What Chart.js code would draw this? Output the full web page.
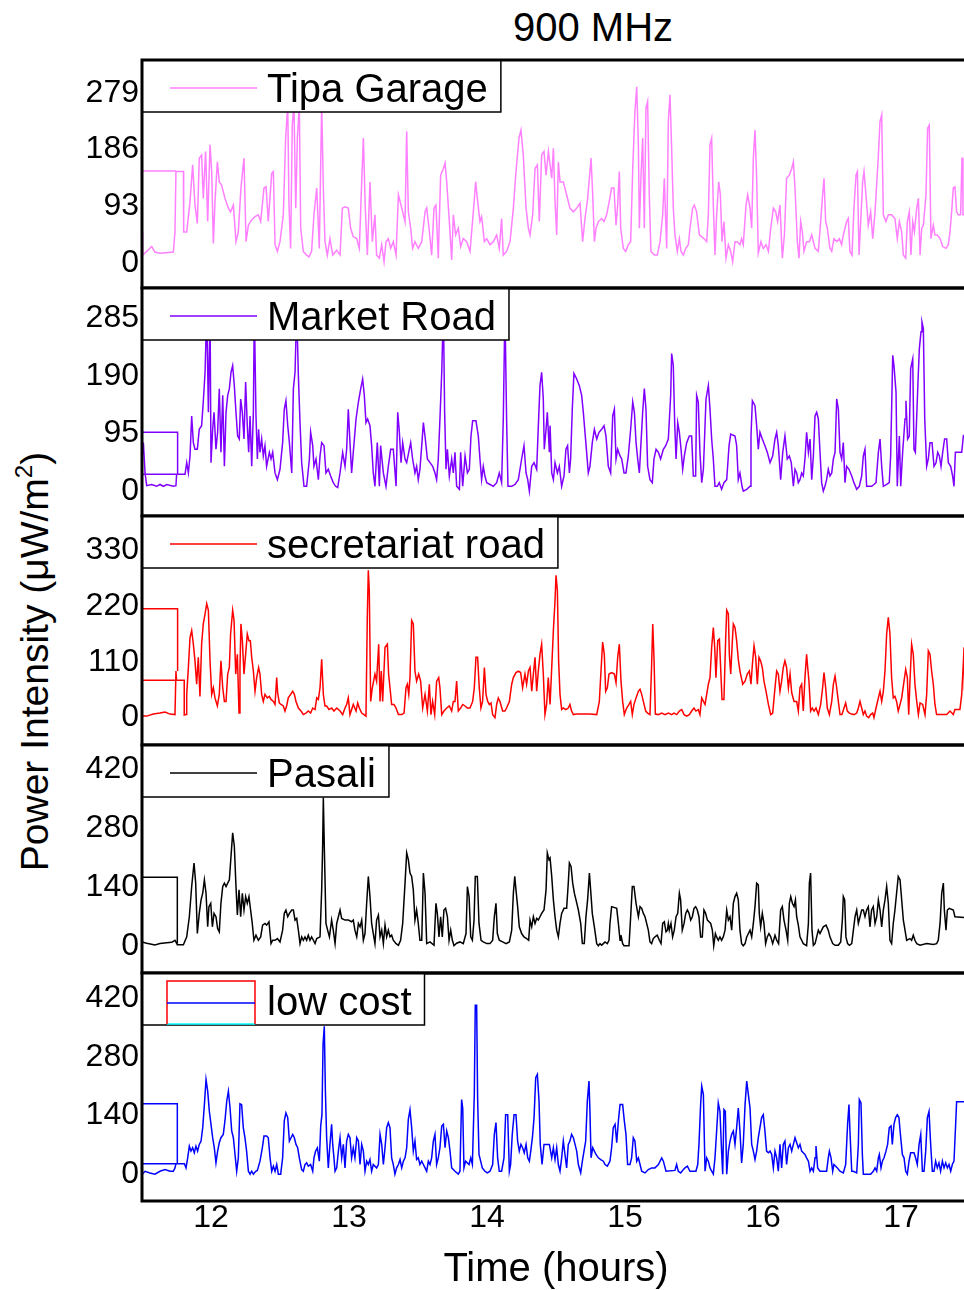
<!DOCTYPE html>
<html lang="en">
<head>
<meta charset="utf-8">
<title>900 MHz</title>
<script src="https://cdn.jsdelivr.net/npm/chart.js@4.4.1/dist/chart.umd.min.js"></script>
<style>
  html, body { margin: 0; padding: 0; background: #fff; }
  body { width: 964px; height: 1290px; overflow: hidden; position: relative;
         font-family: "Liberation Sans", Arial, sans-serif; color: #000; }
  .panel { position: absolute; left: 0; }
  #title { position: absolute; left: 393px; top: 7px; width: 400px; text-align: center;
           font-size: 40px; line-height: 40px; }
  #yTitle { position: absolute; left: -266px; top: 642px; width: 600px; text-align: center;
            font-size: 39px; line-height: 39px; transform: rotate(-90deg); white-space: nowrap; }
  #yTitle sup { font-size: 24px; line-height: 0; vertical-align: 16px; }
</style>
</head>
<body>
<div id="title">900 MHz</div>
<div id="yTitle">Power Intensity (μW/m<sup>2</sup>)</div>
<canvas id="p1" class="panel" width="970" height="232" style="top:58px"></canvas>
<canvas id="p2" class="panel" width="970" height="232" style="top:286px"></canvas>
<canvas id="p3" class="panel" width="970" height="233" style="top:514px"></canvas>
<canvas id="p4" class="panel" width="970" height="232" style="top:743px"></canvas>
<canvas id="p5" class="panel" width="970" height="319" style="top:971px"></canvas>
<script>
// ── Data (time in hours, power intensity in µW/m²) ───────────────────────────
const HOUR_TICKS = [12, 13, 14, 15, 16, 17];

const tipaTicks   = [0, 93, 186, 279];
const marketTicks = [0, 95, 190, 285];
const secTicks    = [0, 110, 220, 330];
const pasaliTicks = [0, 140, 280, 420];
const lowTicks    = [0, 140, 280, 420];

// [hour, value]; a null value breaks the line
const tipaGarage = [
  [11.5,151],[11.746,151],[11.746,null],
  [11.5,51],[11.505,13],[11.534,19],[11.570,27],[11.594,18],[11.630,16],[11.727,18],[11.739,51],[11.746,150],[11.800,150],[11.802,51],
  [11.824,51],[11.848,101],[11.867,161],[11.884,95],[11.901,65],[11.915,172],[11.932,177],[11.944,106],[11.961,183],[11.976,68],
  [11.993,194],[12.005,150],[12.017,32],[12.029,101],[12.046,166],[12.060,133],[12.077,128],[12.101,106],[12.126,90],[12.142,84],
  [12.162,95],[12.181,35],[12.198,51],[12.217,123],[12.239,172],[12.254,35],[12.271,62],[12.295,71],[12.319,76],[12.343,79],
  [12.360,68],[12.384,123],[12.399,125],[12.415,68],[12.440,147],[12.452,150],[12.464,30],[12.481,19],[12.500,35],[12.524,79],
  [12.541,205],[12.556,260],[12.565,95],[12.577,24],[12.589,226],[12.601,260],[12.614,90],[12.626,205],[12.640,260],[12.650,57],
  [12.669,19],[12.693,13],[12.710,10],[12.729,19],[12.746,79],[12.766,123],[12.785,24],[12.802,260],[12.814,123],[12.826,35],
  [12.843,13],[12.862,40],[12.882,13],[12.911,21],[12.935,13],[12.952,90],[12.971,92],[12.995,90],[13.012,57],[13.031,43],
  [13.056,40],[13.075,24],[13.092,133],[13.104,205],[13.118,90],[13.133,13],[13.152,133],[13.169,35],[13.188,79],[13.200,13],
  [13.220,8],[13.237,30],[13.254,2],[13.268,35],[13.285,40],[13.302,24],[13.321,35],[13.341,13],[13.358,112],[13.370,101],
  [13.389,84],[13.406,68],[13.418,216],[13.430,84],[13.447,57],[13.461,24],[13.478,35],[13.502,24],[13.527,35],[13.551,84],
  [13.563,90],[13.580,57],[13.599,13],[13.616,90],[13.630,95],[13.647,8],[13.664,144],[13.684,155],[13.696,164],[13.708,133],
  [13.727,68],[13.744,5],[13.756,79],[13.773,46],[13.792,57],[13.809,27],[13.828,40],[13.853,35],[13.877,19],[13.901,84],
  [13.918,133],[13.930,106],[13.949,68],[13.961,76],[13.981,35],[13.998,40],[14.022,30],[14.046,35],[14.070,46],[14.089,24],
  [14.106,73],[14.118,13],[14.142,19],[14.167,35],[14.191,90],[14.210,150],[14.232,205],[14.246,218],[14.263,177],[14.283,90],
  [14.300,57],[14.312,46],[14.331,79],[14.348,155],[14.365,161],[14.379,68],[14.396,177],[14.413,183],[14.428,144],[14.445,183],
  [14.469,139],[14.481,188],[14.493,101],[14.505,46],[14.517,166],[14.529,133],[14.553,133],[14.577,112],[14.601,90],[14.626,84],
  [14.650,90],[14.674,98],[14.693,35],[14.710,73],[14.727,101],[14.742,139],[14.754,172],[14.766,112],[14.778,35],[14.790,57],
  [14.807,68],[14.831,73],[14.848,68],[14.867,79],[14.886,101],[14.903,123],[14.920,123],[14.935,62],[14.947,95],[14.959,150],
  [14.969,57],[14.988,24],[15.005,19],[15.024,30],[15.041,35],[15.056,155],[15.072,248],[15.085,289],[15.097,194],[15.104,57],
  [15.116,144],[15.128,205],[15.140,57],[15.152,254],[15.164,265],[15.176,112],[15.188,19],[15.213,13],[15.234,13],[15.254,35],
  [15.273,79],[15.285,139],[15.295,68],[15.302,24],[15.314,232],[15.326,276],[15.338,188],[15.350,90],[15.362,46],[15.379,19],
  [15.394,40],[15.406,19],[15.423,13],[15.440,24],[15.459,30],[15.471,57],[15.490,90],[15.502,95],[15.519,84],[15.539,46],
  [15.556,43],[15.572,40],[15.592,35],[15.604,79],[15.616,194],[15.628,205],[15.640,95],[15.652,13],[15.664,79],[15.679,133],
  [15.691,112],[15.703,35],[15.717,68],[15.732,8],[15.749,30],[15.766,19],[15.780,2],[15.797,35],[15.814,35],[15.833,30],
  [15.845,40],[15.857,30],[15.877,95],[15.889,112],[15.906,90],[15.918,57],[15.930,172],[15.942,218],[15.954,139],[15.966,16],
  [15.985,35],[16.002,24],[16.022,30],[16.039,19],[16.056,57],[16.075,90],[16.092,84],[16.106,68],[16.123,95],[16.140,8],
  [16.155,46],[16.171,139],[16.191,144],[16.208,155],[16.220,166],[16.232,123],[16.249,35],[16.261,8],[16.273,68],[16.285,51],
  [16.297,19],[16.316,35],[16.336,35],[16.353,46],[16.377,24],[16.401,19],[16.418,68],[16.432,112],[16.442,139],[16.454,68],
  [16.466,57],[16.485,24],[16.498,19],[16.514,40],[16.534,35],[16.553,40],[16.570,30],[16.582,46],[16.594,57],[16.606,68],
  [16.618,73],[16.630,19],[16.645,13],[16.659,90],[16.674,144],[16.684,150],[16.696,13],[16.708,68],[16.722,133],[16.732,150],
  [16.746,112],[16.763,62],[16.780,84],[16.795,40],[16.812,84],[16.836,177],[16.848,232],[16.860,243],[16.872,79],[16.891,68],
  [16.908,79],[16.932,79],[16.956,73],[16.973,40],[16.988,68],[17.005,51],[17.017,13],[17.034,8],[17.046,68],[17.060,84],
  [17.072,13],[17.085,68],[17.097,51],[17.114,90],[17.126,106],[17.138,13],[17.150,57],[17.162,62],[17.181,112],[17.193,221],
  [17.205,226],[17.217,40],[17.234,62],[17.246,46],[17.263,46],[17.283,40],[17.302,27],[17.326,24],[17.343,30],[17.355,51],
  [17.367,84],[17.379,123],[17.391,125],[17.403,84],[17.415,79],[17.432,79],[17.442,172],[17.447,172],[17.449,79],[17.5,79],
];

const marketRoad = [
  [11.5,97],[11.758,97],[11.758,28],[11.5,28],[11.5,null],
  [11.5,53],[11.510,80],[11.522,30],[11.534,9],[11.570,11],[11.606,8],[11.630,11],[11.655,8],[11.679,11],[11.727,8],[11.746,9],
  [11.751,28],[11.812,28],[11.824,47],[11.836,30],[11.848,58],[11.860,124],[11.872,80],[11.884,69],[11.901,69],[11.915,102],
  [11.932,108],[11.944,147],[11.957,196],[11.969,300],[11.981,130],[11.993,300],[12.000,47],[12.012,102],[12.022,130],[12.036,69],
  [12.048,97],[12.060,169],[12.072,64],[12.085,158],[12.097,41],[12.109,130],[12.121,158],[12.133,169],[12.145,196],[12.157,207],
  [12.169,174],[12.181,130],[12.193,91],[12.205,86],[12.215,152],[12.227,130],[12.239,86],[12.251,180],[12.263,108],[12.273,64],
  [12.283,124],[12.295,41],[12.307,130],[12.314,300],[12.326,124],[12.336,53],[12.345,102],[12.355,64],[12.367,86],[12.379,58],
  [12.391,75],[12.403,41],[12.423,64],[12.435,53],[12.447,64],[12.464,30],[12.481,19],[12.500,36],[12.519,80],[12.531,135],
  [12.543,149],[12.556,108],[12.568,80],[12.585,30],[12.597,169],[12.609,196],[12.621,300],[12.633,191],[12.645,113],[12.657,47],
  [12.674,8],[12.693,8],[12.713,53],[12.722,97],[12.737,75],[12.746,41],[12.761,53],[12.778,19],[12.790,58],[12.802,80],
  [12.819,75],[12.833,30],[12.850,36],[12.867,25],[12.886,14],[12.903,8],[12.918,6],[12.935,30],[12.954,64],[12.971,41],
  [12.983,69],[12.995,135],[13.007,80],[13.019,30],[13.031,64],[13.051,119],[13.068,147],[13.085,169],[13.099,185],[13.111,158],
  [13.123,113],[13.135,119],[13.152,108],[13.164,75],[13.176,30],[13.188,8],[13.205,80],[13.220,8],[13.229,75],[13.249,30],
  [13.268,8],[13.285,41],[13.302,69],[13.321,69],[13.341,8],[13.353,130],[13.365,97],[13.377,47],[13.389,80],[13.406,53],
  [13.418,47],[13.437,69],[13.447,80],[13.461,53],[13.478,30],[13.490,41],[13.502,19],[13.514,36],[13.527,75],[13.539,113],
  [13.553,86],[13.568,53],[13.587,47],[13.606,41],[13.623,30],[13.635,19],[13.647,53],[13.659,119],[13.672,196],[13.684,300],
  [13.693,130],[13.703,36],[13.713,69],[13.727,25],[13.744,53],[13.756,30],[13.768,64],[13.780,8],[13.800,3],[13.809,64],
  [13.824,8],[13.841,58],[13.858,30],[13.872,36],[13.884,91],[13.896,116],[13.920,116],[13.937,91],[13.949,53],[13.961,19],
  [13.973,41],[13.985,25],[13.998,14],[14.022,11],[14.046,8],[14.070,14],[14.089,30],[14.106,14],[14.118,119],[14.130,300],
  [14.142,119],[14.152,8],[14.179,8],[14.203,11],[14.227,19],[14.251,53],[14.268,75],[14.283,30],[14.295,19],[14.307,0],
  [14.324,41],[14.341,47],[14.360,36],[14.372,108],[14.384,174],[14.396,196],[14.408,152],[14.415,69],[14.428,102],[14.437,130],
  [14.452,64],[14.457,108],[14.469,30],[14.481,19],[14.493,47],[14.510,30],[14.524,41],[14.541,8],[14.558,25],[14.572,69],
  [14.584,75],[14.597,30],[14.606,53],[14.618,135],[14.630,194],[14.650,185],[14.669,174],[14.686,158],[14.698,130],[14.710,97],
  [14.722,64],[14.734,30],[14.746,41],[14.763,80],[14.778,102],[14.795,86],[14.812,97],[14.831,102],[14.848,108],[14.862,91],
  [14.879,41],[14.896,30],[14.911,124],[14.923,135],[14.935,53],[14.947,69],[14.964,58],[14.976,53],[14.993,30],[15.007,30],
  [15.024,58],[15.041,102],[15.056,147],[15.068,130],[15.080,80],[15.092,53],[15.104,30],[15.116,80],[15.128,130],[15.140,169],
  [15.152,135],[15.164,41],[15.181,19],[15.198,14],[15.210,53],[15.225,69],[15.242,64],[15.258,53],[15.278,69],[15.295,75],
  [15.314,86],[15.331,158],[15.338,227],[15.350,207],[15.360,113],[15.370,53],[15.382,113],[15.394,97],[15.406,69],[15.418,36],
  [15.430,58],[15.447,80],[15.466,91],[15.483,91],[15.495,25],[15.512,25],[15.519,158],[15.531,147],[15.543,64],[15.556,14],
  [15.568,36],[15.587,152],[15.604,174],[15.616,135],[15.628,86],[15.640,53],[15.652,8],[15.669,8],[15.683,14],[15.700,3],
  [15.717,14],[15.737,19],[15.754,75],[15.766,94],[15.797,91],[15.809,75],[15.821,19],[15.833,30],[15.848,8],[15.857,0],
  [15.882,3],[15.906,8],[15.913,91],[15.923,149],[15.942,141],[15.954,108],[15.966,69],[15.978,97],[15.995,86],[16.014,75],
  [16.031,64],[16.051,47],[16.070,58],[16.087,86],[16.099,97],[16.111,75],[16.128,19],[16.143,64],[16.159,91],[16.176,53],
  [16.191,58],[16.205,47],[16.220,8],[16.232,36],[16.244,30],[16.256,14],[16.268,19],[16.280,30],[16.292,25],[16.304,53],
  [16.316,97],[16.329,64],[16.341,86],[16.353,19],[16.365,58],[16.377,124],[16.389,130],[16.401,119],[16.413,64],[16.425,14],
  [16.437,0],[16.449,8],[16.461,19],[16.473,36],[16.485,25],[16.498,30],[16.510,53],[16.522,64],[16.534,152],[16.546,135],
  [16.558,64],[16.570,53],[16.582,80],[16.594,14],[16.606,41],[16.623,36],[16.643,25],[16.659,14],[16.679,3],[16.698,8],
  [16.715,25],[16.727,58],[16.739,69],[16.751,8],[16.771,8],[16.787,8],[16.804,11],[16.819,14],[16.836,64],[16.848,86],
  [16.860,41],[16.872,8],[16.896,11],[16.915,14],[16.925,58],[16.940,224],[16.949,207],[16.964,163],[16.973,8],[16.988,91],
  [16.998,8],[17.012,64],[17.029,119],[17.036,149],[17.048,86],[17.060,91],[17.070,202],[17.085,218],[17.094,69],[17.104,64],
  [17.114,124],[17.123,180],[17.133,235],[17.145,263],[17.152,279],[17.162,268],[17.172,119],[17.186,41],[17.198,53],[17.210,80],
  [17.225,80],[17.239,41],[17.254,47],[17.266,64],[17.278,58],[17.290,41],[17.302,64],[17.316,86],[17.331,86],[17.343,47],
  [17.360,41],[17.374,25],[17.384,8],[17.394,64],[17.415,64],[17.440,64],[17.452,91],[17.5,80],
];

const secretariatRoad = [
  [11.5,215],[11.758,215],[11.758,92],[11.758,null],
  [11.5,74],[11.75,74],[11.75,null],
  [11.5,74],[11.502,3],[11.534,3],[11.582,7],[11.630,9],[11.667,11],[11.703,7],[11.739,6],[11.746,92],[11.750,74],[11.806,74],
  [11.806,5],[11.819,6],[11.824,46],[11.836,99],[11.848,158],[11.860,172],[11.872,145],[11.884,112],[11.896,66],[11.908,119],
  [11.920,42],[11.932,145],[11.944,185],[11.957,205],[11.969,225],[11.981,212],[11.993,112],[12.005,46],[12.017,59],[12.029,39],
  [12.046,23],[12.060,46],[12.072,112],[12.085,59],[12.097,32],[12.109,32],[12.121,86],[12.133,99],[12.142,165],[12.157,212],
  [12.167,192],[12.179,86],[12.191,125],[12.203,9],[12.210,99],[12.217,185],[12.227,152],[12.239,86],[12.251,125],[12.263,165],
  [12.275,152],[12.285,152],[12.295,119],[12.307,92],[12.319,52],[12.331,79],[12.345,99],[12.355,86],[12.367,46],[12.379,32],
  [12.391,46],[12.408,39],[12.423,42],[12.435,36],[12.452,32],[12.464,26],[12.476,79],[12.483,49],[12.495,29],[12.507,26],
  [12.524,23],[12.536,13],[12.548,23],[12.560,39],[12.577,46],[12.592,52],[12.604,46],[12.616,32],[12.633,19],[12.652,13],
  [12.669,6],[12.688,9],[12.705,13],[12.722,9],[12.737,19],[12.754,16],[12.766,39],[12.778,36],[12.790,59],[12.802,115],
  [12.814,46],[12.826,23],[12.838,23],[12.855,16],[12.874,19],[12.891,13],[12.911,19],[12.935,13],[12.954,6],[12.971,19],
  [12.983,26],[12.995,39],[13.007,6],[13.031,26],[13.051,13],[13.063,29],[13.075,19],[13.092,9],[13.109,6],[13.123,3],
  [13.133,205],[13.140,291],[13.147,251],[13.157,32],[13.169,59],[13.188,86],[13.200,72],[13.215,145],[13.225,32],[13.234,92],
  [13.244,32],[13.261,139],[13.278,145],[13.287,86],[13.297,59],[13.309,26],[13.326,26],[13.341,19],[13.358,6],[13.382,6],
  [13.399,9],[13.413,59],[13.423,66],[13.433,46],[13.442,79],[13.454,192],[13.466,185],[13.478,92],[13.490,72],[13.505,86],
  [13.519,72],[13.534,19],[13.551,46],[13.568,13],[13.582,66],[13.594,6],[13.606,32],[13.621,6],[13.635,72],[13.650,79],
  [13.659,59],[13.672,6],[13.688,13],[13.708,19],[13.727,23],[13.744,13],[13.756,32],[13.768,32],[13.780,72],[13.792,13],
  [13.809,19],[13.824,26],[13.841,23],[13.858,19],[13.877,19],[13.896,32],[13.908,59],[13.920,119],[13.932,119],[13.944,59],
  [13.956,19],[13.968,32],[13.981,99],[13.993,46],[14.005,32],[14.017,26],[14.029,29],[14.041,6],[14.058,0],[14.070,26],
  [14.082,39],[14.094,32],[14.113,13],[14.130,13],[14.142,19],[14.162,32],[14.179,66],[14.191,79],[14.210,89],[14.227,92],
  [14.244,89],[14.258,59],[14.275,86],[14.287,66],[14.300,92],[14.312,99],[14.324,52],[14.336,86],[14.348,119],[14.360,52],
  [14.372,92],[14.384,125],[14.396,145],[14.408,86],[14.420,6],[14.432,26],[14.444,79],[14.457,26],[14.469,99],[14.481,172],
  [14.493,231],[14.500,281],[14.510,251],[14.519,112],[14.529,46],[14.541,16],[14.553,19],[14.572,16],[14.589,19],[14.601,26],
  [14.613,13],[14.626,6],[14.650,7],[14.698,7],[14.746,7],[14.795,6],[14.814,32],[14.826,92],[14.838,149],[14.850,125],
  [14.860,52],[14.872,59],[14.884,86],[14.903,89],[14.923,86],[14.935,69],[14.947,119],[14.959,145],[14.971,72],[14.983,32],
  [14.995,6],[15.012,19],[15.029,26],[15.041,32],[15.053,6],[15.065,26],[15.080,39],[15.097,52],[15.109,56],[15.121,46],
  [15.133,32],[15.150,13],[15.164,9],[15.181,6],[15.193,105],[15.201,185],[15.210,119],[15.220,7],[15.242,6],[15.266,9],
  [15.290,6],[15.314,9],[15.338,6],[15.355,9],[15.375,6],[15.394,13],[15.411,16],[15.428,6],[15.447,3],[15.466,6],
  [15.483,13],[15.500,19],[15.514,13],[15.531,16],[15.543,6],[15.556,39],[15.568,32],[15.580,26],[15.592,46],[15.604,66],
  [15.616,79],[15.628,139],[15.640,178],[15.650,139],[15.659,79],[15.672,152],[15.684,155],[15.693,99],[15.703,36],[15.717,36],
  [15.729,152],[15.737,212],[15.749,205],[15.756,125],[15.766,86],[15.778,152],[15.785,185],[15.797,178],[15.809,152],[15.821,115],
  [15.833,92],[15.853,66],[15.870,72],[15.886,86],[15.901,92],[15.913,66],[15.923,105],[15.935,142],[15.947,119],[15.959,66],
  [15.971,119],[15.983,112],[15.995,99],[16.007,72],[16.022,52],[16.039,26],[16.056,6],[16.070,9],[16.087,59],[16.099,92],
  [16.111,86],[16.123,52],[16.135,72],[16.147,99],[16.159,112],[16.171,99],[16.184,59],[16.196,86],[16.208,49],[16.225,32],
  [16.244,32],[16.256,13],[16.268,59],[16.280,66],[16.292,13],[16.304,79],[16.316,125],[16.324,99],[16.333,72],[16.345,13],
  [16.357,19],[16.370,13],[16.384,19],[16.401,6],[16.418,26],[16.432,59],[16.442,89],[16.454,59],[16.466,19],[16.481,6],
  [16.498,32],[16.510,66],[16.522,82],[16.534,59],[16.546,32],[16.558,6],[16.572,6],[16.587,19],[16.599,29],[16.611,13],
  [16.626,9],[16.643,7],[16.659,6],[16.679,9],[16.691,19],[16.703,32],[16.715,19],[16.727,6],[16.739,13],[16.751,3],
  [16.766,0],[16.780,6],[16.795,9],[16.804,0],[16.819,19],[16.836,39],[16.848,52],[16.860,32],[16.872,52],[16.884,92],
  [16.896,165],[16.908,198],[16.920,165],[16.932,79],[16.944,39],[16.956,42],[16.968,32],[16.980,13],[16.993,26],[17.005,39],
  [17.022,72],[17.034,95],[17.046,79],[17.056,6],[17.065,72],[17.077,145],[17.089,125],[17.101,66],[17.114,32],[17.126,6],
  [17.138,29],[17.157,26],[17.174,6],[17.186,46],[17.198,132],[17.210,125],[17.222,92],[17.234,66],[17.246,26],[17.258,6],
  [17.331,6],[17.355,13],[17.379,6],[17.391,16],[17.427,16],[17.440,46],[17.452,109],[17.457,139],[17.46,55],[17.5,55],
];

const pasali = [
  [11.5,163],[11.756,163],[11.756,5],[11.756,null],
  [11.5,9],[11.534,6],[11.594,2],[11.630,5],[11.679,7],[11.715,8],[11.739,13],[11.756,2],[11.800,2],[11.824,21],[11.843,69],
  [11.860,141],[11.877,197],[11.889,149],[11.901,29],[11.915,77],[11.928,109],[11.940,125],[11.952,157],[11.964,125],[11.976,45],
  [11.985,93],[11.998,101],[12.010,45],[12.022,77],[12.036,69],[12.048,41],[12.060,33],[12.072,101],[12.085,141],[12.097,149],
  [12.109,141],[12.121,149],[12.133,157],[12.145,213],[12.157,269],[12.169,237],[12.181,141],[12.191,73],[12.203,133],[12.215,69],
  [12.227,125],[12.239,85],[12.251,117],[12.263,101],[12.275,117],[12.287,85],[12.299,53],[12.311,13],[12.326,25],[12.343,13],
  [12.360,21],[12.374,49],[12.391,53],[12.403,49],[12.420,57],[12.435,5],[12.447,13],[12.464,13],[12.481,17],[12.500,9],
  [12.519,37],[12.531,77],[12.543,85],[12.556,69],[12.568,77],[12.585,85],[12.597,85],[12.609,61],[12.621,65],[12.633,37],
  [12.645,5],[12.657,21],[12.669,13],[12.681,21],[12.693,13],[12.705,25],[12.717,13],[12.729,21],[12.742,13],[12.754,5],
  [12.766,17],[12.790,21],[12.802,133],[12.809,237],[12.814,353],[12.821,237],[12.833,53],[12.845,37],[12.858,21],[12.874,61],
  [12.886,37],[12.899,5],[12.911,53],[12.923,69],[12.935,85],[12.947,65],[12.971,61],[12.995,61],[13.019,57],[13.031,61],
  [13.043,37],[13.056,21],[13.068,53],[13.080,45],[13.092,61],[13.104,13],[13.116,29],[13.128,101],[13.140,165],[13.152,117],
  [13.164,53],[13.176,29],[13.188,5],[13.200,61],[13.213,73],[13.225,21],[13.237,37],[13.249,5],[13.261,49],[13.273,21],
  [13.285,37],[13.297,21],[13.309,25],[13.321,13],[13.341,5],[13.358,1],[13.374,13],[13.389,53],[13.406,149],[13.418,221],
  [13.430,205],[13.442,173],[13.454,165],[13.466,133],[13.478,61],[13.490,85],[13.502,53],[13.514,13],[13.527,13],[13.539,173],
  [13.551,125],[13.563,5],[13.587,9],[13.616,1],[13.630,101],[13.640,77],[13.652,21],[13.664,69],[13.676,21],[13.688,85],
  [13.700,89],[13.713,69],[13.725,13],[13.737,37],[13.749,13],[13.761,0],[13.780,6],[13.804,9],[13.828,5],[13.848,29],
  [13.858,141],[13.870,117],[13.882,21],[13.894,13],[13.906,61],[13.915,165],[13.930,165],[13.942,53],[13.957,13],[13.973,9],
  [13.998,5],[14.022,5],[14.041,13],[14.053,69],[14.065,101],[14.075,29],[14.089,13],[14.113,9],[14.138,5],[14.162,9],
  [14.179,37],[14.191,125],[14.201,165],[14.210,133],[14.222,93],[14.234,45],[14.251,29],[14.268,21],[14.287,17],[14.302,13],
  [14.312,61],[14.324,45],[14.336,69],[14.348,53],[14.360,65],[14.372,61],[14.384,69],[14.396,77],[14.413,85],[14.428,133],
  [14.437,221],[14.449,205],[14.457,209],[14.469,165],[14.481,109],[14.493,69],[14.505,37],[14.517,21],[14.529,53],[14.541,77],
  [14.558,89],[14.577,89],[14.589,149],[14.597,197],[14.609,189],[14.621,149],[14.633,125],[14.645,109],[14.662,85],[14.679,53],
  [14.691,5],[14.705,5],[14.717,69],[14.729,109],[14.742,173],[14.751,133],[14.763,77],[14.778,45],[14.795,5],[14.807,0],
  [14.819,5],[14.831,1],[14.843,5],[14.855,9],[14.872,5],[14.884,13],[14.891,53],[14.903,93],[14.940,89],[14.952,53],
  [14.964,13],[14.971,25],[14.983,5],[14.993,0],[15.029,0],[15.041,69],[15.053,141],[15.065,141],[15.080,101],[15.097,69],
  [15.109,93],[15.121,89],[15.133,77],[15.145,69],[15.157,53],[15.169,37],[15.181,9],[15.193,5],[15.205,17],[15.217,21],
  [15.234,25],[15.249,13],[15.261,5],[15.273,53],[15.285,57],[15.297,33],[15.307,37],[15.314,53],[15.321,37],[15.333,53],
  [15.345,21],[15.357,37],[15.370,69],[15.382,77],[15.394,125],[15.403,109],[15.415,37],[15.428,53],[15.440,77],[15.452,85],
  [15.464,77],[15.476,61],[15.488,69],[15.500,89],[15.512,93],[15.524,85],[15.536,69],[15.548,21],[15.560,21],[15.572,85],
  [15.584,77],[15.597,61],[15.609,57],[15.621,53],[15.633,37],[15.643,0],[15.655,29],[15.664,21],[15.676,13],[15.688,21],
  [15.700,13],[15.712,21],[15.725,37],[15.737,85],[15.749,61],[15.761,69],[15.773,37],[15.785,101],[15.797,117],[15.809,125],
  [15.821,109],[15.833,37],[15.845,5],[15.857,0],[15.870,5],[15.882,21],[15.894,29],[15.906,37],[15.918,21],[15.930,53],
  [15.942,93],[15.954,149],[15.966,145],[15.973,77],[15.983,45],[15.995,77],[16.007,53],[16.019,5],[16.031,21],[16.043,29],
  [16.056,21],[16.070,5],[16.087,25],[16.099,13],[16.113,5],[16.128,85],[16.140,93],[16.152,61],[16.167,37],[16.179,13],
  [16.191,101],[16.201,117],[16.213,101],[16.225,93],[16.235,109],[16.244,69],[16.256,49],[16.268,21],[16.280,13],[16.292,5],
  [16.316,0],[16.329,53],[16.336,149],[16.345,173],[16.355,37],[16.365,1],[16.377,5],[16.389,21],[16.401,37],[16.413,29],
  [16.425,37],[16.437,45],[16.457,49],[16.473,37],[16.485,21],[16.505,5],[16.522,1],[16.546,1],[16.563,9],[16.575,61],
  [16.582,117],[16.592,109],[16.601,21],[16.613,5],[16.626,1],[16.643,5],[16.655,37],[16.667,69],[16.679,85],[16.691,53],
  [16.703,69],[16.715,85],[16.727,85],[16.739,69],[16.751,85],[16.763,93],[16.775,45],[16.787,85],[16.799,93],[16.812,53],
  [16.824,69],[16.836,109],[16.848,85],[16.860,45],[16.872,85],[16.884,109],[16.896,141],[16.908,101],[16.920,13],[16.932,5],
  [16.944,53],[16.956,85],[16.968,125],[16.980,165],[16.993,157],[17.005,109],[17.017,61],[17.029,37],[17.041,13],[17.065,17],
  [17.077,13],[17.089,25],[17.101,13],[17.114,5],[17.138,1],[17.186,5],[17.234,3],[17.258,5],[17.270,13],[17.283,53],
  [17.295,125],[17.307,149],[17.314,85],[17.326,37],[17.336,85],[17.350,89],[17.379,85],[17.391,69],[17.457,67],[17.5,67],
];

const lowCost = [
  [11.5,168],[11.756,168],[11.756,25],[11.756,null],
  [11.5,25],[11.746,25],[11.746,null],
  [11.5,25],[11.502,0],[11.522,7],[11.558,3],[11.594,0],[11.630,7],[11.667,11],[11.703,7],[11.727,7],[11.739,15],[11.746,25],
  [11.807,25],[11.819,15],[11.831,39],[11.843,67],[11.855,55],[11.867,63],[11.879,51],[11.891,67],[11.903,55],[11.915,71],
  [11.928,79],[11.940,111],[11.952,166],[11.964,226],[11.976,198],[11.988,150],[12.000,119],[12.012,87],[12.024,63],[12.036,27],
  [12.048,55],[12.060,75],[12.072,87],[12.089,95],[12.101,127],[12.114,174],[12.126,198],[12.138,158],[12.150,103],[12.162,87],
  [12.174,47],[12.186,7],[12.198,39],[12.210,168],[12.222,166],[12.234,111],[12.246,87],[12.258,55],[12.271,7],[12.283,0],
  [12.295,7],[12.307,0],[12.324,7],[12.336,9],[12.355,31],[12.372,63],[12.384,91],[12.403,91],[12.415,87],[12.428,39],
  [12.440,7],[12.452,19],[12.464,7],[12.476,23],[12.488,0],[12.505,0],[12.519,39],[12.531,127],[12.543,146],[12.556,135],
  [12.568,79],[12.580,87],[12.592,95],[12.604,87],[12.616,71],[12.628,63],[12.640,39],[12.657,11],[12.669,7],[12.681,23],
  [12.693,27],[12.705,19],[12.722,23],[12.737,7],[12.746,39],[12.758,55],[12.771,63],[12.785,31],[12.795,115],[12.804,142],
  [12.812,310],[12.821,353],[12.829,198],[12.838,87],[12.850,15],[12.862,71],[12.874,119],[12.882,71],[12.891,39],[12.899,7],
  [12.911,15],[12.923,55],[12.935,87],[12.947,39],[12.959,71],[12.971,15],[12.983,79],[12.995,95],[13.007,87],[13.019,39],
  [13.031,63],[13.043,39],[13.056,87],[13.068,79],[13.080,23],[13.092,71],[13.104,55],[13.116,7],[13.128,31],[13.140,23],
  [13.152,35],[13.164,7],[13.176,23],[13.200,15],[13.213,23],[13.225,95],[13.237,71],[13.249,23],[13.261,63],[13.273,111],
  [13.285,123],[13.297,111],[13.309,39],[13.321,23],[13.333,0],[13.345,15],[13.358,23],[13.370,35],[13.382,15],[13.394,31],
  [13.406,39],[13.418,63],[13.430,131],[13.442,154],[13.454,111],[13.466,55],[13.478,79],[13.490,35],[13.502,39],[13.514,23],
  [13.527,31],[13.539,23],[13.551,15],[13.563,7],[13.575,31],[13.587,23],[13.599,39],[13.611,79],[13.623,95],[13.635,23],
  [13.647,39],[13.659,63],[13.672,115],[13.684,119],[13.696,63],[13.708,103],[13.720,87],[13.732,55],[13.744,15],[13.768,7],
  [13.792,0],[13.804,7],[13.816,178],[13.824,158],[13.833,15],[13.845,31],[13.870,23],[13.882,39],[13.894,23],[13.908,190],
  [13.915,403],[13.925,403],[13.932,182],[13.942,47],[13.954,31],[13.966,15],[13.985,7],[14.002,3],[14.022,7],[14.041,23],
  [14.053,95],[14.065,123],[14.077,39],[14.089,7],[14.106,7],[14.123,39],[14.135,142],[14.150,142],[14.162,7],[14.171,23],
  [14.183,95],[14.196,142],[14.210,142],[14.222,79],[14.234,55],[14.246,71],[14.258,63],[14.270,51],[14.283,71],[14.295,39],
  [14.307,31],[14.317,55],[14.329,87],[14.341,135],[14.353,230],[14.365,238],[14.377,174],[14.386,71],[14.399,23],[14.413,71],
  [14.452,71],[14.469,39],[14.481,63],[14.493,35],[14.505,63],[14.517,23],[14.529,7],[14.541,39],[14.553,79],[14.565,47],
  [14.577,15],[14.589,71],[14.601,79],[14.613,95],[14.626,87],[14.638,71],[14.650,55],[14.662,23],[14.679,3],[14.691,31],
  [14.703,55],[14.715,79],[14.727,174],[14.739,222],[14.746,150],[14.754,39],[14.766,63],[14.778,55],[14.790,47],[14.807,39],
  [14.824,35],[14.843,31],[14.855,23],[14.872,19],[14.891,31],[14.903,63],[14.915,111],[14.928,119],[14.940,75],[14.952,127],
  [14.964,166],[14.983,166],[14.995,127],[15.007,95],[15.019,23],[15.036,23],[15.048,39],[15.060,87],[15.072,79],[15.085,31],
  [15.097,39],[15.109,23],[15.121,7],[15.145,3],[15.169,11],[15.193,15],[15.217,15],[15.242,23],[15.266,39],[15.278,31],
  [15.297,7],[15.362,9],[15.374,23],[15.386,7],[15.403,3],[15.423,11],[15.435,15],[15.452,19],[15.471,7],[15.514,7],
  [15.527,23],[15.536,71],[15.548,166],[15.556,210],[15.568,190],[15.580,7],[15.592,39],[15.604,31],[15.616,15],[15.628,7],
  [15.640,0],[15.652,39],[15.664,103],[15.676,170],[15.688,150],[15.700,55],[15.708,0],[15.717,154],[15.727,150],[15.737,0],
  [15.749,55],[15.761,79],[15.773,95],[15.785,103],[15.797,71],[15.809,111],[15.821,158],[15.833,103],[15.845,27],[15.857,71],
  [15.870,166],[15.882,222],[15.894,190],[15.906,158],[15.918,71],[15.930,55],[15.942,35],[15.954,55],[15.966,87],[15.978,111],
  [15.990,135],[16.002,142],[16.014,103],[16.026,55],[16.039,51],[16.051,55],[16.063,47],[16.075,15],[16.087,55],[16.099,39],
  [16.111,7],[16.123,71],[16.135,15],[16.147,71],[16.159,79],[16.171,23],[16.184,63],[16.196,71],[16.208,55],[16.220,71],
  [16.232,87],[16.244,75],[16.256,63],[16.268,71],[16.280,55],[16.292,51],[16.304,47],[16.316,39],[16.329,31],[16.341,7],
  [16.353,15],[16.365,7],[16.377,39],[16.384,67],[16.396,15],[16.413,7],[16.461,7],[16.473,39],[16.481,55],[16.493,39],
  [16.505,7],[16.514,23],[16.527,19],[16.539,15],[16.558,7],[16.582,3],[16.599,23],[16.606,71],[16.613,119],[16.623,166],
  [16.630,103],[16.643,7],[16.655,7],[16.679,3],[16.691,71],[16.698,178],[16.710,170],[16.720,47],[16.727,0],[16.780,0],
  [16.799,7],[16.812,15],[16.824,7],[16.836,39],[16.843,47],[16.855,15],[16.865,31],[16.877,39],[16.891,55],[16.903,71],
  [16.915,111],[16.928,115],[16.937,71],[16.949,119],[16.961,135],[16.973,142],[16.985,135],[16.998,87],[17.010,47],[17.022,39],
  [17.034,7],[17.046,0],[17.058,31],[17.070,51],[17.094,51],[17.106,39],[17.118,23],[17.131,71],[17.143,95],[17.155,7],
  [17.167,7],[17.179,55],[17.191,135],[17.203,150],[17.215,71],[17.227,7],[17.239,7],[17.251,31],[17.263,15],[17.275,27],
  [17.287,7],[17.300,31],[17.312,15],[17.324,27],[17.336,15],[17.348,23],[17.360,7],[17.372,23],[17.384,31],[17.396,119],
  [17.403,173],[17.5,173],
];

// ── Panels ────────────────────────────────────────────────────────────────────
const FONT = '"Liberation Sans", Arial, sans-serif';
Chart.defaults.font.family = FONT;

const PANELS = [
  { id: 'p1', label: 'Tipa Garage',      color: '#ff80ff', data: tipaGarage,      ticks: tipaTicks,   min: -41, max: 333 },
  { id: 'p2', label: 'Market Road',      color: '#8000ff', data: marketRoad,      ticks: marketTicks, min: -41, max: 335 },
  { id: 'p3', label: 'secretariat road', color: '#ff0000', data: secretariatRoad, ticks: secTicks,    min: -54, max: 398 },
  { id: 'p4', label: 'Pasali',           color: '#000000', data: pasali,          ticks: pasaliTicks, min: -65, max: 478 },
  { id: 'p5', label: 'low cost',         color: '#0000ff', data: lowCost,         ticks: lowTicks,    min: -64, max: 480, last: true },
];

// legend box in the top-left corner + heavy panel frame
const panelFrame = {
  id: 'panelFrame',
  afterDatasetsDraw(chart, args, opts) {
    const { ctx, chartArea: a } = chart;
    ctx.save();
    ctx.font = `40px ${FONT}`;
    const textX = a.left + 125;
    const boxW  = textX + ctx.measureText(opts.label).width + 13 - a.left;
    ctx.fillStyle = '#fff';
    ctx.fillRect(a.left, a.top, boxW, 52);
    ctx.lineWidth = 1.5;
    ctx.strokeStyle = '#000';
    ctx.strokeRect(a.left, a.top, boxW, 52);

    if (opts.lowCost) {
      ctx.strokeStyle = '#00ffff';
      ctx.beginPath(); ctx.moveTo(a.left + 25, a.top + 51); ctx.lineTo(a.left + 113, a.top + 51); ctx.stroke();
      ctx.strokeStyle = '#ff0000';
      ctx.beginPath();
      ctx.moveTo(a.left + 25, a.top + 51); ctx.lineTo(a.left + 25, a.top + 8);
      ctx.lineTo(a.left + 113, a.top + 8); ctx.lineTo(a.left + 113, a.top + 51);
      ctx.stroke();
      ctx.strokeStyle = opts.color;
      ctx.beginPath(); ctx.moveTo(a.left + 25, a.top + 30); ctx.lineTo(a.left + 113, a.top + 30); ctx.stroke();
    } else {
      ctx.strokeStyle = opts.color;
      ctx.beginPath(); ctx.moveTo(a.left + 28, a.top + 28); ctx.lineTo(a.left + 115, a.top + 28); ctx.stroke();
    }

    ctx.fillStyle = '#000';
    ctx.textBaseline = 'alphabetic';
    ctx.fillText(opts.label, textX, a.top + 42);

    ctx.lineWidth = 3;
    ctx.strokeStyle = '#000';
    ctx.strokeRect(a.left, a.top, a.right - a.left, a.bottom - a.top);
    ctx.restore();
  },
};

PANELS.forEach(p => {
  new Chart(document.getElementById(p.id), {
    type: 'line',
    data: {
      datasets: [{
        data: p.data.map(([x, y]) => ({ x, y })),
        borderColor: p.color,
        borderWidth: 1.5,
        pointRadius: 0,
        tension: 0,
        spanGaps: false,
        fill: false,
      }],
    },
    options: {
      responsive: false,
      animation: false,
      events: [],
      layout: { padding: { top: 2, bottom: p.last ? 0 : 2, left: 0, right: 0 } },
      plugins: {
        legend: { display: false },
        tooltip: { enabled: false },
        panelFrame: { label: p.label, color: p.color, lowCost: p.id === 'p5' },
      },
      scales: {
        x: {
          type: 'linear',
          min: 11.5,
          max: 17.5,
          display: !!p.last,
          afterFit: s => {
            if (p.last) s.height = 89;
            s.paddingLeft = 0;
            s.paddingRight = 0;
          },
          afterBuildTicks: s => { s.ticks = HOUR_TICKS.map(v => ({ value: v })); },
          grid: { display: false, drawTicks: false },
          border: { display: false },
          ticks: { color: '#000', padding: 1, autoSkip: false, maxRotation: 0, font: { size: 32, lineHeight: 1 } },
          title: { display: true, text: 'Time (hours)', color: '#000', padding: { top: 0, bottom: 0 }, font: { size: 40, lineHeight: 1 } },
        },
        y: {
          min: p.min,
          max: p.max,
          afterFit: s => {
            s.width = 142;
            s.paddingTop = 0;
            s.paddingBottom = 0;
          },
          afterBuildTicks: s => { s.ticks = p.ticks.map(v => ({ value: v })); },
          grid: { display: false, drawTicks: false },
          border: { display: false },
          ticks: { color: '#000', padding: 3, autoSkip: false, font: { size: 32 } },
        },
      },
    },
    plugins: [panelFrame],
  });
});
</script>
</body>
</html>
